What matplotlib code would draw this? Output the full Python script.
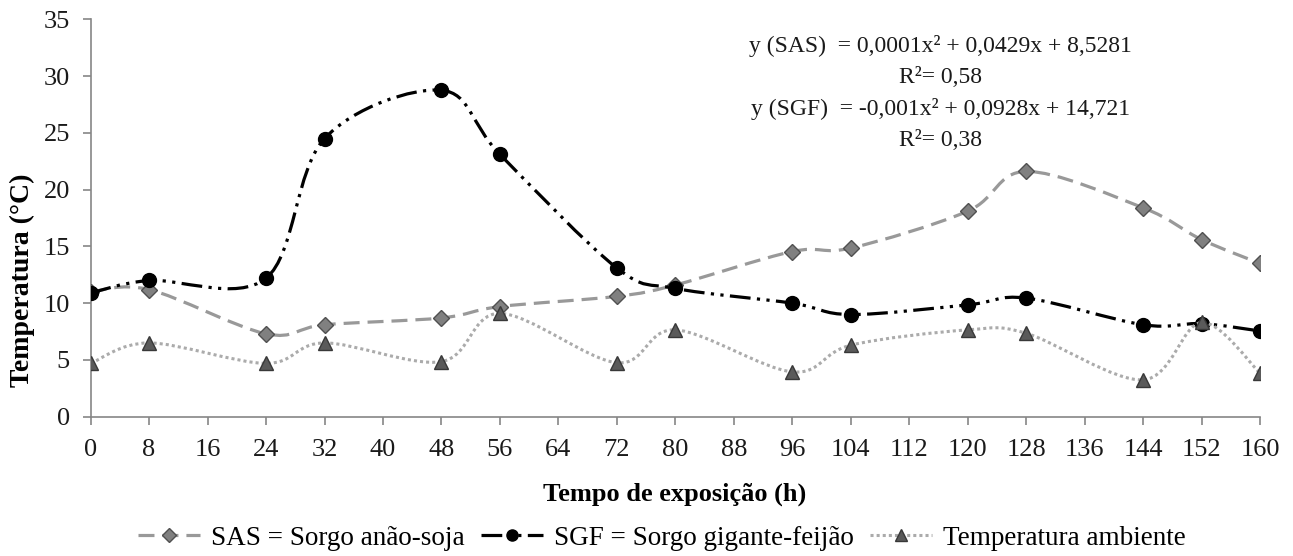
import numpy as np
import matplotlib
matplotlib.use("Agg")
import matplotlib.pyplot as plt
from matplotlib.path import Path
from matplotlib.patches import PathPatch
from matplotlib.lines import Line2D

plt.rcParams['font.family'] = ['Liberation Serif', 'DejaVu Serif']

# tempo de exposicao (h)
horas = [0, 8, 24, 32, 48, 56, 72, 80, 96, 104, 120, 128, 144, 152, 160]
# temperaturas (C)
sas = [11.0, 11.2, 7.3, 8.1, 8.7, 9.7, 10.6, 11.6, 14.55, 14.85, 18.1, 21.6, 18.4, 15.6, 13.5]
sgf = [10.9, 12.0, 12.2, 24.5, 28.75, 23.1, 13.1, 11.3, 10.0, 9.0, 9.85, 10.45, 8.1, 8.2, 7.55]
amb = [4.7, 6.5, 4.7, 6.5, 4.85, 9.1, 4.75, 7.65, 3.95, 6.3, 7.65, 7.35, 3.25, 8.3, 3.85]

xticks = list(range(0, 161, 8))
yticks = list(range(0, 36, 5))
nomes = ["SAS = Sorgo anão-soja", "SGF = Sorgo gigante-feijão", "Temperatura ambiente"]
equacoes = "y (SAS)  = 0,0001x² + 0,0429x + 8,5281\nR²= 0,58\ny (SGF)  = -0,001x² + 0,0928x + 14,721\nR²= 0,38"


def curva(x, y):
    # linha suavizada tipo excel (bezier pelos pontos)
    n = len(x)
    verts = [(x[0], y[0])]
    codes = [Path.MOVETO]
    for i in range(n - 1):
        a = i - 1 if i > 0 else i
        d = i + 2 if i + 2 < n else i + 1
        c1 = (x[i] + (x[i + 1] - x[a]) / 6, y[i] + (y[i + 1] - y[a]) / 6)
        c2 = (x[i + 1] - (x[d] - x[i]) / 6, y[i + 1] - (y[d] - y[i]) / 6)
        verts += [c1, c2, (x[i + 1], y[i + 1])]
        codes += [Path.CURVE4] * 3
    return Path(verts, codes)


estilos = [
    dict(cor="#999999", lw=2.3, ls=(0, (5, 2.5)), marker="D", ms=8.5, mfc="#808080", mec="#505050"),
    dict(cor="black", lw=2.3, ls=(0, (6.5, 2, 1, 2, 1, 2)), marker="o", ms=10, mfc="black", mec="black"),
    dict(cor="#ababab", lw=2.2, ls=(0, (1, 1)), marker="^", ms=10, mfc="#5a5a5a", mec="#383838"),
]

fig = plt.figure(figsize=(12.93, 5.56), dpi=100)
ax = fig.add_axes([0.0701, 0.2505, 0.9044, 0.7148])

handles = []
for k, (serie, st) in enumerate(zip([sas, sgf, amb], estilos)):
    p = PathPatch(curva(horas, serie), fill=False, edgecolor=st["cor"], lw=st["lw"],
                  linestyle=st["ls"], zorder=2 + 2 * k)
    ax.add_patch(p)
    ax.plot(horas, serie, linestyle="none", marker=st["marker"], ms=st["ms"],
            mfc=st["mfc"], mec=st["mec"], mew=1, zorder=3 + 2 * k)
    handles.append(Line2D([], [], color=st["cor"], lw=st["lw"], linestyle=st["ls"],
                          marker=st["marker"], ms=st["ms"] * 0.8, mfc=st["mfc"], mec=st["mec"]))

ax.set_xlim(0, 160)
ax.set_ylim(0, 35)
ax.set_xticks(xticks)
ax.set_yticks(yticks)
for s in ["top", "right"]:
    ax.spines[s].set_visible(False)
for s in ["left", "bottom"]:
    ax.spines[s].set_color("#868686")
    ax.spines[s].set_linewidth(1.2)
ax.tick_params(axis="both", colors="#868686", labelcolor="#1a1a1a", labelsize=19,
               length=6, width=1.2, direction="out")
ax.tick_params(axis="x", pad=10)
ax.tick_params(axis="y", pad=9)

ax.text(0.727, 0.96, equacoes, transform=ax.transAxes, ha="center", va="top",
        fontsize=17, linespacing=1.6, color="#1a1a1a")

fig.text(0.522, 0.111, "Tempo de exposição (h)", ha="center", va="center",
         fontsize=19, fontweight="bold")
fig.text(0.017, 0.496, "Temperatura (°C)", ha="center", va="center",
         rotation=90, fontsize=20, fontweight="bold")

fig.legend(handles, nomes, loc="center", bbox_to_anchor=(0.512, 0.032), ncol=3,
           frameon=False, fontsize=19.5, handlelength=2.3, handletextpad=0.4,
           columnspacing=0.6)

fig.savefig("out.png", dpi=100)
